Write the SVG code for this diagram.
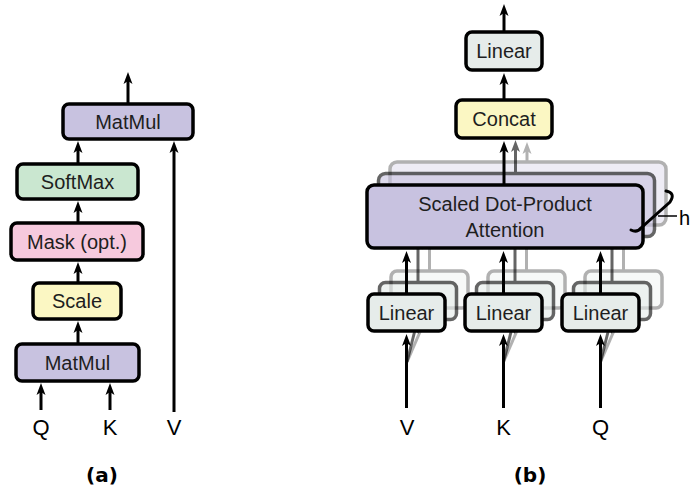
<svg xmlns="http://www.w3.org/2000/svg" width="691" height="495" viewBox="0 0 691 495">
<style>
.box{stroke:#000;stroke-width:3.5}
.mm{fill:#c8c2e0}
.sm{fill:#cae7d0}
.mk{fill:#f6c9dd}
.sc{fill:#fbf7c3}
.ln{fill:#e6ecea}
.t{font-family:"Liberation Sans",Arial,sans-serif;font-size:20px;fill:#1e1e1e;text-anchor:middle}
.lab{font-family:"Liberation Sans",Arial,sans-serif;font-size:22px;fill:#000;text-anchor:middle}
.cap{font-family:"DejaVu Sans",Verdana,sans-serif;font-weight:bold;font-size:20px;fill:#000;text-anchor:middle}
.ar{stroke:#000;stroke-width:3;fill:none;marker-end:url(#ah)}
</style>
<defs>
<marker id="ah" viewBox="0 0 12 10" refX="3" refY="5" markerWidth="12" markerHeight="10" markerUnits="userSpaceOnUse" orient="auto">
<path d="M0,0.5 L12,5 L0,9.5 L3,5 z" fill="#000"/>
</marker>
</defs>

<!-- shadow copies of heads (b) -->
<g id="head-copy-3" opacity="0.3">
<line class="ar" x1="407" y1="362" x2="426" y2="318"/>
<line class="ar" x1="503.5" y1="362" x2="522.5" y2="318"/>
<line class="ar" x1="600.5" y1="362" x2="619.5" y2="318"/>
<line class="ar" x1="429.5" y1="271" x2="429.5" y2="235"/>
<line class="ar" x1="526.5" y1="271" x2="526.5" y2="235"/>
<line class="ar" x1="623.5" y1="271" x2="623.5" y2="235"/>
<line class="ar" x1="527" y1="162" x2="527" y2="151"/>
<rect class="box mm" x="390" y="162" width="276" height="63" rx="7"/>
<rect class="box ln" x="391" y="271" width="77" height="37" rx="6"/>
<rect class="box ln" x="488" y="271" width="77" height="37" rx="6"/>
<rect class="box ln" x="585" y="271" width="77" height="37" rx="6"/>
</g>
<g id="head-copy-2" opacity="0.6">
<line class="ar" x1="407" y1="362" x2="415" y2="330"/>
<line class="ar" x1="503.5" y1="362" x2="511.5" y2="330"/>
<line class="ar" x1="600.5" y1="362" x2="608.5" y2="330"/>
<line class="ar" x1="418" y1="282.5" x2="418" y2="246.5"/>
<line class="ar" x1="515" y1="282.5" x2="515" y2="246.5"/>
<line class="ar" x1="612" y1="282.5" x2="612" y2="246.5"/>
<line class="ar" x1="515.5" y1="173.5" x2="515.5" y2="149"/>
<rect class="box mm" x="378.5" y="173.5" width="276" height="63" rx="7"/>
<rect class="box ln" x="379.5" y="282.5" width="77" height="37" rx="6"/>
<rect class="box ln" x="476.5" y="282.5" width="77" height="37" rx="6"/>
<rect class="box ln" x="573.5" y="282.5" width="77" height="37" rx="6"/>
</g>

<g id="connectors">
<!-- (a) -->
<line class="ar" x1="128" y1="104" x2="128" y2="81"/>
<line class="ar" x1="78" y1="164" x2="78" y2="150"/>
<line class="ar" x1="78" y1="223" x2="78" y2="210"/>
<line class="ar" x1="78" y1="283" x2="78" y2="271"/>
<line class="ar" x1="78" y1="344" x2="78" y2="330"/>
<line class="ar" x1="41" y1="410" x2="41" y2="392"/>
<line class="ar" x1="110" y1="410" x2="110" y2="392"/>
<line class="ar" x1="174" y1="412" x2="174" y2="150"/>
<!-- (b) -->
<line class="ar" x1="504" y1="32" x2="504" y2="13"/>
<line class="ar" x1="504" y1="100" x2="504" y2="82"/>
<line class="ar" x1="504" y1="185" x2="504" y2="150"/>
<line class="ar" x1="406.5" y1="294" x2="406.5" y2="260"/>
<line class="ar" x1="503.5" y1="294" x2="503.5" y2="260"/>
<line class="ar" x1="600.5" y1="294" x2="600.5" y2="260"/>
<line class="ar" x1="406.5" y1="408" x2="406.5" y2="343"/>
<line class="ar" x1="503.5" y1="408" x2="503.5" y2="343"/>
<line class="ar" x1="600.5" y1="408" x2="600.5" y2="343"/>
</g>

<!-- (a) nodes -->
<g id="a-matmul-top"><rect class="box mm" x="63" y="104" width="130" height="35" rx="6"/><text class="t" x="128" y="128.7">MatMul</text></g>
<g id="a-softmax"><rect class="box sm" x="17" y="164" width="121" height="35" rx="6"/><text class="t" x="77.5" y="188.7">SoftMax</text></g>
<g id="a-mask"><rect class="box mk" x="11" y="223" width="132" height="37" rx="6"/><text class="t" x="77" y="248.7">Mask (opt.)</text></g>
<g id="a-scale"><rect class="box sc" x="33" y="283" width="88" height="36" rx="6"/><text class="t" x="77" y="308">Scale</text></g>
<g id="a-matmul-bottom"><rect class="box mm" x="16" y="344" width="123" height="37" rx="6"/><text class="t" x="77.5" y="369.7">MatMul</text></g>
<g id="a-q"><text class="lab" x="41" y="435">Q</text></g>
<g id="a-k"><text class="lab" x="110" y="435">K</text></g>
<g id="a-v"><text class="lab" x="174" y="435">V</text></g>
<text class="cap" x="102" y="482">(a)</text>

<!-- (b) nodes -->
<g id="b-linear-top"><rect class="box ln" x="466" y="32" width="76" height="38" rx="6"/><text class="t" x="504" y="58.2">Linear</text></g>
<g id="b-concat"><rect class="box sc" x="456" y="100" width="96" height="38" rx="6"/><text class="t" x="504" y="126.2">Concat</text></g>
<g id="b-attention"><rect class="box mm" x="367" y="185" width="276" height="63" rx="7"/><text class="t" x="505" y="211">Scaled Dot-Product</text><text class="t" x="505" y="237">Attention</text></g>
<g id="b-linear-v"><rect class="box ln" x="368" y="294" width="77" height="37" rx="6"/><text class="t" x="406.5" y="319.7">Linear</text></g>
<g id="b-linear-k"><rect class="box ln" x="465" y="294" width="77" height="37" rx="6"/><text class="t" x="503.5" y="319.7">Linear</text></g>
<g id="b-linear-q"><rect class="box ln" x="562" y="294" width="77" height="37" rx="6"/><text class="t" x="600.5" y="319.7">Linear</text></g>
<g id="b-v"><text class="lab" x="407" y="435">V</text></g>
<g id="b-k"><text class="lab" x="503.5" y="435">K</text></g>
<g id="b-q"><text class="lab" x="600.5" y="435">Q</text></g>
<g id="b-h">
<path d="M666,191 Q676,193 670,202 L641,228 Q637,233 631,230" fill="none" stroke="#000" stroke-width="3" stroke-linecap="round"/>
<line x1="658" y1="216" x2="677" y2="216" stroke="#000" stroke-width="1.5"/>
<text class="lab" x="679" y="225" style="text-anchor:start;font-size:20px">h</text>
</g>
<text class="cap" x="530" y="482">(b)</text>
</svg>
